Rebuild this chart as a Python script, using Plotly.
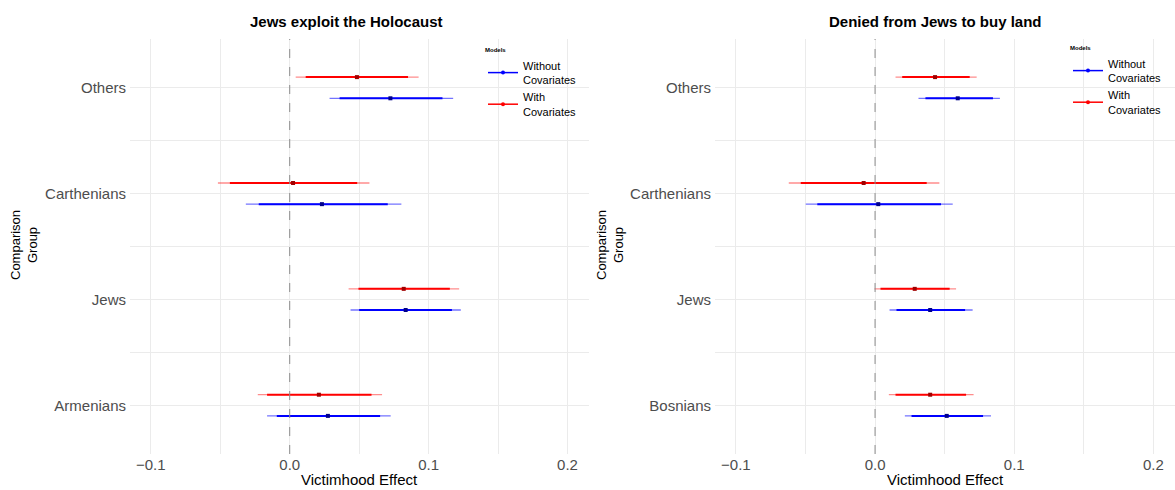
import plotly.graph_objects as go

# ---------------- data ----------------
titles = ["Jews exploit the Holocaust", "Denied from Jews to buy land"]
legend_names = ["Without<br>Covariates", "With<br>Covariates"]
x_tick_vals = [-0.1, 0.0, 0.1, 0.2]
x_tick_text = ["\u22120.1", "0.0", "0.1", "0.2"]

# left panel (bottom to top)
groups_left = ["Armenians", "Jews", "Carthenians", "Others"]
left_without_est = [0.0275, 0.0835, 0.0232, 0.0725]
left_without_lo90 = [-0.0093, 0.0500, -0.0223, 0.0359]
left_without_hi90 = [0.0651, 0.1168, 0.0706, 0.1100]
left_without_lo95 = [-0.0163, 0.0438, -0.0316, 0.0287]
left_without_hi95 = [0.0727, 0.1232, 0.0804, 0.1177]
left_with_est = [0.0210, 0.0821, 0.0024, 0.0484]
left_with_lo90 = [-0.0163, 0.0495, -0.0431, 0.0115]
left_with_hi90 = [0.0589, 0.1153, 0.0486, 0.0852]
left_with_lo95 = [-0.0230, 0.0424, -0.0517, 0.0043]
left_with_hi95 = [0.0665, 0.1220, 0.0574, 0.0928]

# right panel (bottom to top)
groups_right = ["Bosnians", "Jews", "Carthenians", "Others"]
right_without_est = [0.0515, 0.0396, 0.0023, 0.0594]
right_without_lo90 = [0.0262, 0.0154, -0.0415, 0.0362]
right_without_hi90 = [0.0776, 0.0647, 0.0474, 0.0847]
right_without_lo95 = [0.0214, 0.0104, -0.0498, 0.0312]
right_without_hi95 = [0.0833, 0.0701, 0.0558, 0.0897]
right_with_est = [0.0396, 0.0285, -0.0082, 0.0431]
right_with_lo90 = [0.0147, 0.0039, -0.0534, 0.0195]
right_with_hi90 = [0.0654, 0.0536, 0.0371, 0.0680]
right_with_lo95 = [0.0099, -0.0004, -0.0620, 0.0147]
right_with_hi95 = [0.0708, 0.0582, 0.0462, 0.0730]

# ---------------- style ----------------
FONT = "Liberation Sans, Arial, sans-serif"
BLUE = "#0000FF"
RED = "#FF0000"
BLUE_LIGHT = "rgba(0,0,255,0.55)"
RED_LIGHT = "rgba(255,0,0,0.45)"
BLUE_DARK = "#00008B"
RED_DARK = "#A00000"
GRID = "#EBEBEB"
DODGE = 0.1

fig = go.Figure()


def segs(lo, hi, pos):
    xs, ys = [], []
    for a, b, p in zip(lo, hi, pos):
        xs += [a, b, None]
        ys += [p, p, None]
    return xs, ys


def add_panel(xa, ya, est_w, lo90_w, hi90_w, lo95_w, hi95_w,
              est_c, lo90_c, hi90_c, lo95_c, hi95_c, legend_id):
    n = len(est_w)
    pos_w = [i + 1 - DODGE for i in range(n)]
    pos_c = [i + 1 + DODGE for i in range(n)]
    for lo95, hi95, lo90, hi90, est, pos, col, light, dark in [
        (lo95_w, hi95_w, lo90_w, hi90_w, est_w, pos_w, BLUE, BLUE_LIGHT, BLUE_DARK),
        (lo95_c, hi95_c, lo90_c, hi90_c, est_c, pos_c, RED, RED_LIGHT, RED_DARK),
    ]:
        x, y = segs(lo95, hi95, pos)
        fig.add_trace(go.Scatter(x=x, y=y, mode="lines", xaxis=xa, yaxis=ya,
                                 line=dict(color=light, width=1.3),
                                 showlegend=False, hoverinfo="skip"))
        x, y = segs(lo90, hi90, pos)
        fig.add_trace(go.Scatter(x=x, y=y, mode="lines", xaxis=xa, yaxis=ya,
                                 line=dict(color=col, width=2),
                                 showlegend=False, hoverinfo="skip"))
        fig.add_trace(go.Scatter(x=est, y=pos, mode="markers", xaxis=xa, yaxis=ya,
                                 marker=dict(color=dark, size=4, symbol="square"),
                                 showlegend=False))
    # legend entries
    for name, col in zip(legend_names, [BLUE, RED]):
        fig.add_trace(go.Scatter(x=[None], y=[None], mode="lines+markers",
                                 xaxis=xa, yaxis=ya, name=name, legend=legend_id,
                                 line=dict(color=col, width=1.5),
                                 marker=dict(color=col, size=4)))


add_panel("x", "y", left_without_est, left_without_lo90, left_without_hi90,
          left_without_lo95, left_without_hi95, left_with_est, left_with_lo90,
          left_with_hi90, left_with_lo95, left_with_hi95, "legend")
add_panel("x2", "y2", right_without_est, right_without_lo90, right_without_hi90,
          right_without_lo95, right_without_hi95, right_with_est, right_with_lo90,
          right_with_hi90, right_with_lo95, right_with_hi95, "legend2")

W, H = 1175, 490
xrange = [-0.115, 0.2155]
yrange = [0.54, 4.46]
ydom = [36 / H, 1 - 39 / H]

common_x = dict(range=xrange, tickvals=x_tick_vals, ticktext=x_tick_text,
                showgrid=True, gridcolor=GRID, gridwidth=1, zeroline=False,
                showline=False, ticks="",
                tickfont=dict(family=FONT, size=15, color="#4D4D4D"),
                minor=dict(tickvals=[-0.05, 0.05, 0.15], showgrid=True,
                           gridcolor=GRID, gridwidth=1))


def yax(labels, anchor):
    return dict(range=yrange, domain=ydom, tickvals=[1, 2, 3, 4], ticktext=labels,
                showgrid=True, gridcolor=GRID, gridwidth=1, zeroline=False,
                showline=False, ticks="", anchor=anchor, ticklabelstandoff=3,
                tickfont=dict(family=FONT, size=15, color="#4D4D4D"),
                minor=dict(tickvals=[1.5, 2.5, 3.5], showgrid=True,
                           gridcolor=GRID, gridwidth=1))


legend_common = dict(xanchor="left", yanchor="top", bgcolor="rgba(0,0,0,0)",
                     itemwidth=30, tracegroupgap=0,
                     title=dict(text="<b>Models</b>", font=dict(size=6, family=FONT)),
                     font=dict(size=11, family=FONT, color="black"))

fig.update_layout(
    width=W, height=H,
    margin=dict(l=0, r=0, t=0, b=0, autoexpand=False),
    paper_bgcolor="white", plot_bgcolor="white",
    font=dict(family=FONT, color="black"),
    xaxis=dict(common_x, domain=[130 / W, 589 / W], anchor="y"),
    yaxis=yax(groups_left, "x"),
    xaxis2=dict(common_x, domain=[715 / W, 1.0], anchor="y2"),
    yaxis2=yax(groups_right, "x2"),
    legend=dict(legend_common, x=483 / W, y=1 - 44 / H),
    legend2=dict(legend_common, x=1068 / W, y=1 - 42 / H),
)

# dashed zero reference lines
for xr, yr in [("x", "y domain"), ("x2", "y2 domain")]:
    fig.add_shape(type="line", xref=xr, yref=yr, x0=0, x1=0, y0=0, y1=1,
                  line=dict(color="#8C8C8C", width=1, dash="dash"))

# titles and axis titles
for cx, t in zip([346, 935], titles):
    fig.add_annotation(text="<b>" + t + "</b>", x=cx / W, y=1 - 22 / H,
                       xref="paper", yref="paper", showarrow=False,
                       xanchor="center", yanchor="middle",
                       font=dict(size=15, family=FONT, color="black"))
for cx in [359, 945]:
    fig.add_annotation(text="Victimhood Effect", x=cx / W, y=0,
                       xref="paper", yref="paper", showarrow=False,
                       xanchor="center", yanchor="bottom",
                       font=dict(size=15, family=FONT, color="black"))
for cx in [24, 610]:
    fig.add_annotation(text="Comparison<br>Group", x=cx / W, y=1 - 245 / H,
                       xref="paper", yref="paper", showarrow=False, textangle=-90,
                       xanchor="center", yanchor="middle",
                       font=dict(size=13, family=FONT, color="black"))

fig.write_html("out.html")
